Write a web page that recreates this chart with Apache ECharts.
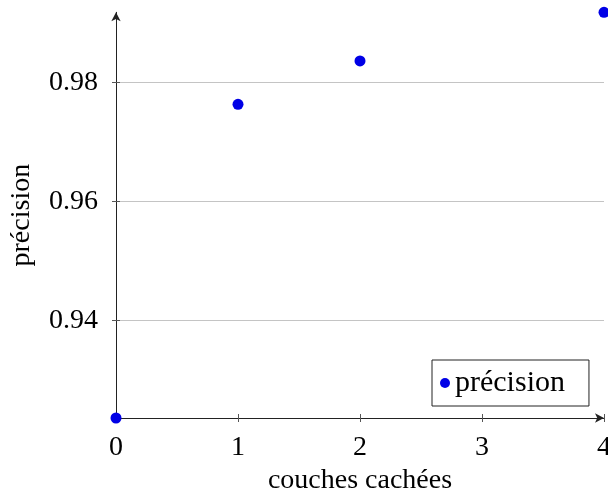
<!DOCTYPE html>
<html>
<head>
<meta charset="utf-8">
<script src="https://cdn.jsdelivr.net/npm/echarts@6/dist/echarts.min.js"></script>
<style>html,body{margin:0;padding:0;background:#fff;}#c{width:608px;height:493px;}</style>
</head>
<body>
<div id="c"></div>
<script>
const layers = [0, 1, 2, 4];
const precision = [0.92365, 0.97637, 0.98365, 0.99183];
const yTicks = [0.94, 0.96, 0.98];
const xTicks = [0, 1, 2, 3, 4];
const seriesName = 'précision';
const xName = 'couches cachées';
const yName = 'précision';

const FONT = 'Liberation Serif';
const FS = 28;
const yMin = precision[0], yMax = precision[3];

const chart = echarts.init(document.getElementById('c'), null, {renderer: 'canvas'});
const axisColor = '#222';
chart.setOption({
  animation: false,
  backgroundColor: '#fff',
  textStyle: {fontFamily: FONT},
  grid: {left: 116, right: 4, top: 12.3, bottom: 75, containLabel: false, outerBoundsMode: 'none'},
  legend: {
    data: [{name: seriesName, icon: 'circle'}],
    left: 432, top: 360,
    orient: 'horizontal',
    itemWidth: 10, itemHeight: 10, itemGap: 4,
    padding: [8, 24, 8, 8],
    borderColor: '#222', borderWidth: 1,
    textStyle: {fontFamily: FONT, fontSize: 30, color: '#000', padding: [0, 0, 0, 0]}
  },
  xAxis: [{
    type: 'value', min: 0, max: 4, interval: 1,
    name: xName, nameLocation: 'middle', nameGap: 46,
    nameTextStyle: {fontFamily: FONT, fontSize: FS, color: '#000'},
    axisLine: {show: true, lineStyle: {color: axisColor, width: 1}, symbol: ['none', 'arrow'], symbolSize: [7, 9], symbolOffset: [0, 0]},
    axisTick: {show: true, length: 4, lineStyle: {color: '#555'}},
    axisLabel: {fontFamily: FONT, fontSize: FS, color: '#000', margin: 16, showMaxLabel: true, showMinLabel: true},
    splitLine: {show: false}
  }, {
    type: 'value', min: 0, max: 4, interval: 1, position: 'bottom',
    axisLine: {show: false},
    axisTick: {show: true, inside: true, length: 4, lineStyle: {color: '#555'}},
    axisLabel: {show: false},
    splitLine: {show: false}
  }],
  yAxis: [{
    type: 'value', min: yMin, max: yMax,
    name: yName, nameLocation: 'middle', nameGap: 80,
    nameTextStyle: {fontFamily: FONT, fontSize: FS, color: '#000'},
    axisLine: {show: true, lineStyle: {color: axisColor, width: 1}, symbol: ['none', 'arrow'], symbolSize: [7, 9]},
    axisTick: {show: true, length: 4, customValues: yTicks, lineStyle: {color: '#555'}},
    axisLabel: {fontFamily: FONT, fontSize: FS, color: '#000', margin: 18, customValues: yTicks,
      formatter: v => String(+v.toFixed(2))},
    splitLine: {show: true, lineStyle: {color: '#c4c4c4', width: 1}}
  }, {
    type: 'value', min: yMin, max: yMax, position: 'left',
    axisLine: {show: false},
    axisTick: {show: true, inside: true, length: 4, customValues: yTicks, lineStyle: {color: '#555'}},
    axisLabel: {show: false, customValues: yTicks},
    splitLine: {show: false}
  }],
  series: [{
    name: seriesName, type: 'scatter',
    data: layers.map((x, i) => [x, precision[i]]),
    symbol: 'circle', symbolSize: 11,
    itemStyle: {color: '#0000e6', opacity: 1},
    clip: false, z: 5
  }]
});
</script>
</body>
</html>
